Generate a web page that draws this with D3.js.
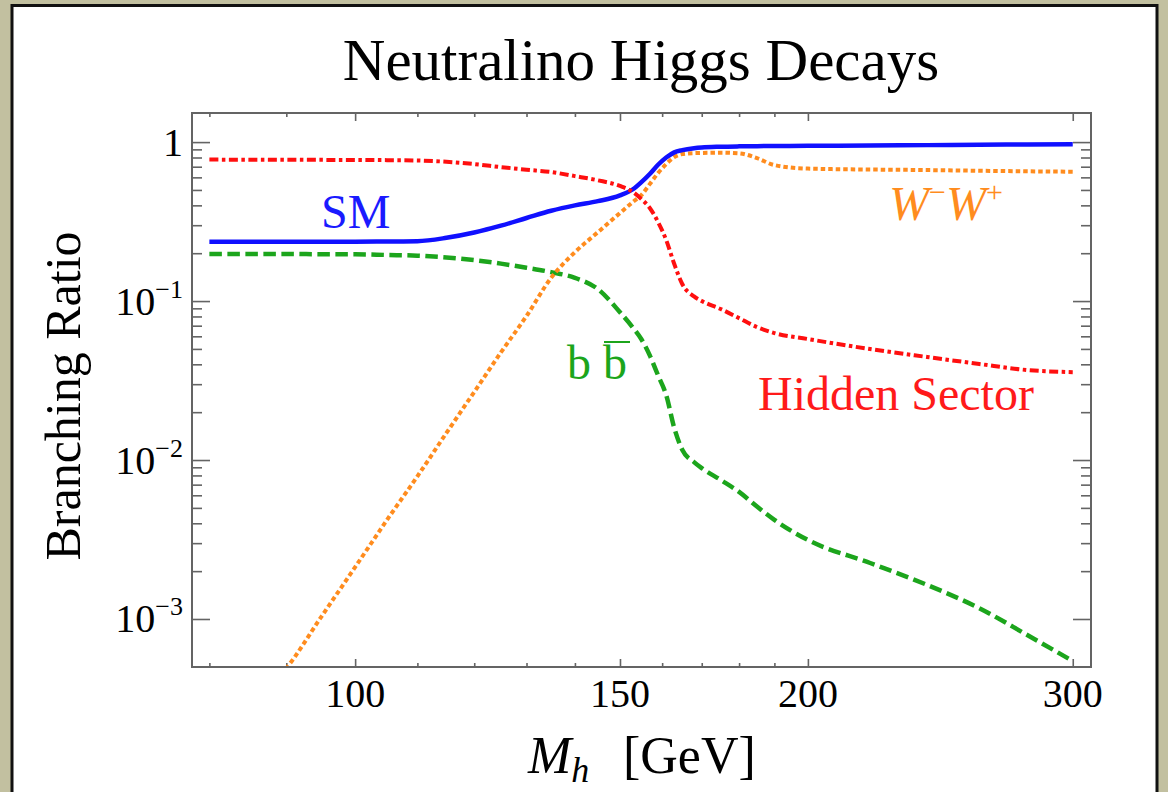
<!DOCTYPE html>
<html>
<head>
<meta charset="utf-8">
<script src="https://cdn.jsdelivr.net/npm/d3@7"></script>
<style>
  html, body { margin: 0; padding: 0; background: #c2c0a0; }
  svg { display: block; }
  text { font-family: "Liberation Serif", "Times New Roman", serif; }
</style>
</head>
<body>
<script>
// Higgs mass grid (GeV) and branching ratios
const massGeV = [80, 85, 90, 95, 100, 105, 110, 115, 120, 125, 130, 135, 140, 145, 150, 153, 155, 157, 159, 161, 163, 165, 168, 170, 175, 180, 185, 190, 200, 220, 240, 260, 280, 300];
const smBR = [0.236, 0.236, 0.236, 0.236, 0.236, 0.237, 0.238, 0.250, 0.270, 0.298, 0.333, 0.370, 0.400, 0.425, 0.462, 0.505, 0.560, 0.630, 0.720, 0.800, 0.862, 0.890, 0.915, 0.925, 0.935, 0.940, 0.943, 0.945, 0.948, 0.952, 0.957, 0.962, 0.966, 0.970];
const hiddenBR = [0.776, 0.775, 0.774, 0.773, 0.772, 0.770, 0.766, 0.752, 0.727, 0.696, 0.670, 0.648, 0.611, 0.575, 0.530, 0.485, 0.438, 0.385, 0.314, 0.242, 0.171, 0.128, 0.107, 0.100, 0.0891, 0.0781, 0.0686, 0.0629, 0.0577, 0.0499, 0.0445, 0.0402, 0.0368, 0.0357];
const bbBR = [0.198, 0.198, 0.198, 0.197, 0.197, 0.195, 0.193, 0.188, 0.181, 0.172, 0.162, 0.152, 0.140, 0.119, 0.085, 0.068, 0.0575, 0.0455, 0.0341, 0.0256, 0.0159, 0.0116, 0.0097, 0.0089, 0.0075, 0.0063, 0.0051, 0.0042, 0.00314, 0.00225, 0.00164, 0.00117, 0.00079, 0.000544];
const wwBR = [0.0001, 0.00029, 0.00049, 0.00104, 0.00212, 0.0042, 0.0079, 0.0148, 0.0268, 0.0475, 0.0805, 0.140, 0.203, 0.271, 0.358, 0.420, 0.464, 0.544, 0.638, 0.727, 0.805, 0.841, 0.853, 0.855, 0.858, 0.850, 0.793, 0.717, 0.681, 0.672, 0.667, 0.660, 0.655, 0.651];

const xTicks = [100, 150, 200, 300];
const xMinorTicks = [80, 90, 110, 120, 130, 140, 160, 170, 180, 190];
const yTicks = [1, 0.1, 0.01, 0.001];
const yTickExponents = ["", "\u22121", "\u22122", "\u22123"];
const yMinorTicks = [0.9, 0.8, 0.7, 0.6, 0.5, 0.4, 0.3, 0.2,
  0.09, 0.08, 0.07, 0.06, 0.05, 0.04, 0.03, 0.02,
  0.009, 0.008, 0.007, 0.006, 0.005, 0.004, 0.003, 0.002];

const width = 1168;
const height = 792;
const frame = { left: 192, right: 1091, top: 113, bottom: 667 };
const frameColor = "#646464";

const svg = d3
  .select("body")
  .append("svg")
  .attr("width", width)
  .attr("height", height);

// outer khaki border with black rule
svg
  .append("rect")
  .attr("x", 12)
  .attr("y", 5.5)
  .attr("width", 1145)
  .attr("height", 800)
  .attr("fill", "white")
  .attr("stroke", "#111")
  .attr("stroke-width", 3);

const xScale = d3
  .scaleLog()
  .domain([77.9, 308.5])
  .range([frame.left, frame.right]);
const yScale = d3
  .scaleLog()
  .domain([Math.pow(10, -3.302), Math.pow(10, 0.183)])
  .range([frame.bottom, frame.top]);

svg
  .append("clipPath")
  .attr("id", "plot-clip")
  .append("rect")
  .attr("x", frame.left)
  .attr("y", frame.top)
  .attr("width", frame.right - frame.left)
  .attr("height", frame.bottom - frame.top);

// ticks drawn inward on all four sides
const tickAxis = (axis, values, size, transform) => {
  svg
    .append("g")
    .attr("transform", transform)
    .call(axis.tickValues(values).tickSize(size).tickFormat(""))
    .call((g) => g.select(".domain").remove())
    .call((g) =>
      g.selectAll("line").attr("stroke", frameColor).attr("stroke-width", 1.6),
    );
};

tickAxis(d3.axisBottom(xScale), xTicks, -8, `translate(0,${frame.bottom})`);
tickAxis(d3.axisBottom(xScale), xMinorTicks, -4, `translate(0,${frame.bottom})`);
tickAxis(d3.axisTop(xScale), xTicks, -8, `translate(0,${frame.top})`);
tickAxis(d3.axisTop(xScale), xMinorTicks, -4, `translate(0,${frame.top})`);
tickAxis(d3.axisLeft(yScale), yTicks, -18, `translate(${frame.left},0)`);
tickAxis(d3.axisLeft(yScale), yMinorTicks, -10, `translate(${frame.left},0)`);
tickAxis(d3.axisRight(yScale), yTicks, -18, `translate(${frame.right},0)`);
tickAxis(d3.axisRight(yScale), yMinorTicks, -10, `translate(${frame.right},0)`);

// curves
const series = [
  { values: bbBR, color: "#1ca51c", width: 4.5, dash: "12.5,5.5" },
  { values: wwBR, color: "#ff8c1e", width: 4, dash: "4.5,3" },
  { values: smBR, color: "#1010ff", width: 4.5, dash: null },
  { values: hiddenBR, color: "#ff0f0f", width: 4, dash: "9,3.5,3.5,3.5" },
];

const line = d3
  .line()
  .x((d) => xScale(d.m))
  .y((d) => yScale(d.v))
  .curve(d3.curveMonotoneX);

const plot = svg.append("g").attr("clip-path", "url(#plot-clip)");
series.forEach((s) => {
  plot
    .append("path")
    .datum(massGeV.map((m, i) => ({ m: m, v: s.values[i] })))
    .attr("fill", "none")
    .attr("stroke", s.color)
    .attr("stroke-width", s.width)
    .attr("stroke-dasharray", s.dash)
    .attr("d", line);
});

// frame
svg
  .append("rect")
  .attr("x", frame.left)
  .attr("y", frame.top)
  .attr("width", frame.right - frame.left)
  .attr("height", frame.bottom - frame.top)
  .attr("fill", "none")
  .attr("stroke", frameColor)
  .attr("stroke-width", 2);

// x tick labels
svg
  .append("g")
  .selectAll("text")
  .data(xTicks)
  .enter()
  .append("text")
  .attr("x", (d) => xScale(d))
  .attr("y", 707)
  .attr("text-anchor", "middle")
  .attr("font-size", 40)
  .text((d) => d);

// y tick labels with superscript exponents
const yLabels = svg
  .append("g")
  .selectAll("text")
  .data(yTicks)
  .enter()
  .append("text")
  .attr("x", 183)
  .attr("y", (d) => yScale(d) + 13.5)
  .attr("text-anchor", "end")
  .attr("font-size", 40);
yLabels
  .append("tspan")
  .text((d, i) => (yTickExponents[i] ? "10" : "1"));
yLabels
  .filter((d, i) => yTickExponents[i])
  .append("tspan")
  .attr("font-size", 26)
  .attr("dy", -17)
  .text((d, i) => yTickExponents[i + 1]);

// title
svg
  .append("text")
  .attr("x", 641)
  .attr("y", 80)
  .attr("text-anchor", "middle")
  .attr("font-size", 59)
  .text("Neutralino Higgs Decays");

// axis titles
svg
  .append("text")
  .attr("transform", "translate(80,396) rotate(-90)")
  .attr("text-anchor", "middle")
  .attr("font-size", 50)
  .text("Branching Ratio");

const xTitle = svg
  .append("text")
  .attr("x", 528)
  .attr("y", 773)
  .attr("font-size", 52);
xTitle.append("tspan").attr("font-style", "italic").text("M");
xTitle
  .append("tspan")
  .attr("font-style", "italic")
  .attr("font-size", 36)
  .attr("dy", 9)
  .text("h");
xTitle.append("tspan").attr("x", 623).attr("dy", -9).text("[GeV]");

// curve labels
svg
  .append("text")
  .attr("x", 321)
  .attr("y", 228)
  .attr("font-size", 48)
  .attr("fill", "#1a1aff")
  .text("SM");

const wLabel = svg
  .append("text")
  .attr("x", 889)
  .attr("y", 220)
  .attr("font-size", 48)
  .attr("fill", "#ff8c1e");
wLabel.append("tspan").attr("font-style", "italic").text("W");
wLabel.append("tspan").attr("font-size", 30).attr("dy", -18).text("\u2212");
wLabel.append("tspan").attr("font-style", "italic").attr("dy", 18).text("W");
wLabel.append("tspan").attr("font-size", 30).attr("dy", -18).text("+");

const bLabel = svg
  .append("text")
  .attr("x", 567)
  .attr("y", 379)
  .attr("font-size", 48)
  .attr("fill", "#1ca51c");
bLabel.append("tspan").text("b ");
const barB = bLabel.append("tspan").text("b");

// bar over the second b, sized from the rendered glyph
const barBox = barB.node().getExtentOfChar(0);
svg
  .append("line")
  .attr("x1", barBox.x + 1)
  .attr("x2", barBox.x + barBox.width + 3)
  .attr("y1", 342)
  .attr("y2", 342)
  .attr("stroke", "#1ca51c")
  .attr("stroke-width", 2);

svg
  .append("text")
  .attr("x", 758)
  .attr("y", 410)
  .attr("font-size", 48)
  .attr("fill", "#ff1a1a")
  .text("Hidden Sector");
</script>
</body>
</html>
